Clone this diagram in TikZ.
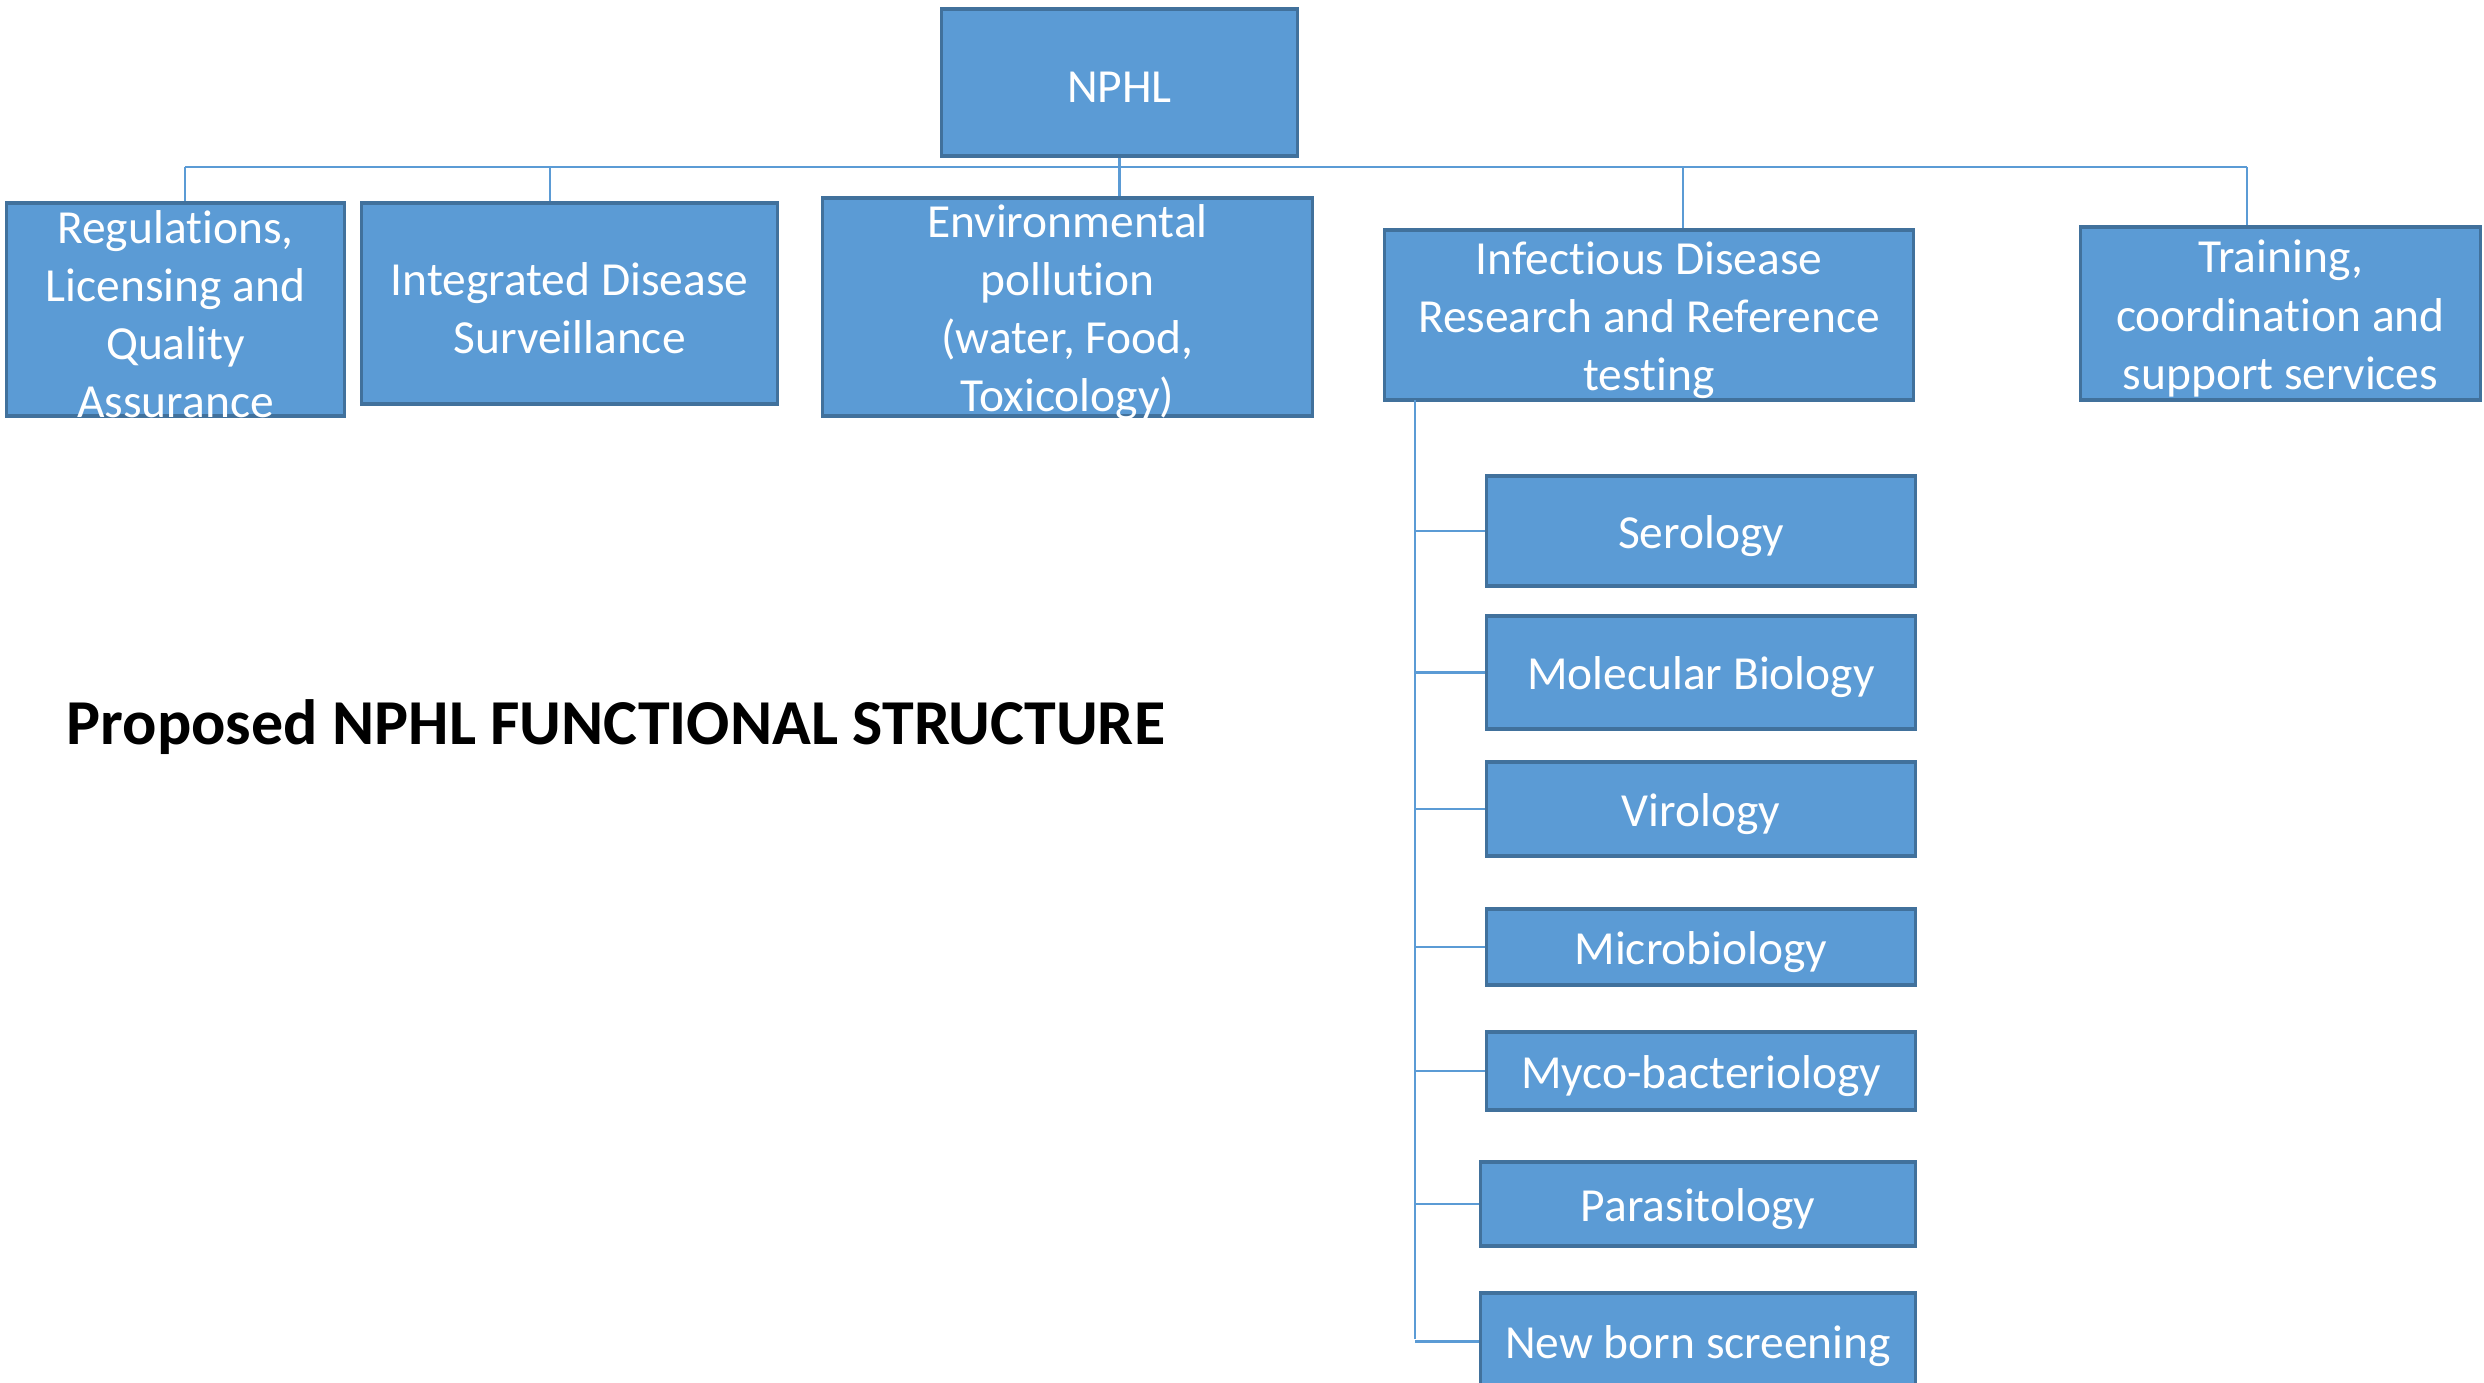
\documentclass[tikz,border=0pt]{standalone}
\usepackage{fontspec}
\setmainfont{Carlito}[Ligatures=NoCommon]
\definecolor{boxblue}{HTML}{5B9BD5}
\definecolor{boxedge}{HTML}{41719C}
\begin{document}
\begin{tikzpicture}[x=0.01cm, y=-0.01cm,
        unittext/.style={text=white, inner sep=0pt, align=center, yshift=-0.05cm,
            font=\fontsize{13.5}{16.5}\selectfont},
        unit/.style={draw=boxedge, line width=0.9pt, fill=boxblue, inner sep=0pt,
            label={[unittext]center:#1}},
        conn/.style={draw=boxblue, line width=0.6pt}]
        \useasboundingbox (0, 0) rectangle (2484, 1383);
        % top level
        \node[unit={NPHL}, minimum width=3.55cm, minimum height=1.47cm] (nphl_box) at (1119.5, 82.5) {};
        \node[unit={Regulations,\\Licensing and\\Quality\\Assurance}, minimum width=3.37cm, minimum height=2.13cm] (reg_box) at (175.5, 309.5) {};
        \node[unit={Integrated Disease\\Surveillance}, minimum width=4.15cm, minimum height=2.01cm] (ids_box) at (569.5, 303.5) {};
        \node[unit={Environmental\\pollution\\(water, Food,\\Toxicology)}, minimum width=4.89cm, minimum height=2.18cm] (env_box) at (1067.5, 307) {};
        \node[unit={Infectious Disease\\Research and Reference\\testing}, minimum width=5.28cm, minimum height=1.70cm] (inf_box) at (1649, 315) {};
        \node[unit={Training,\\coordination and\\support services}, minimum width=3.99cm, minimum height=1.73cm] (trn_box) at (2280.5, 313.5) {};
        % sections under infectious disease
        \node[unit={Serology}, minimum width=4.28cm, minimum height=1.10cm] (ser_box) at (1701, 531) {};
        \node[unit={Molecular Biology}, minimum width=4.28cm, minimum height=1.13cm] (mol_box) at (1701, 672.5) {};
        \node[unit={Virology}, minimum width=4.28cm, minimum height=0.94cm] (vir_box) at (1701, 809) {};
        \node[unit={Microbiology}, minimum width=4.28cm, minimum height=0.76cm] (mic_box) at (1701, 947) {};
        \node[unit={Myco-bacteriology}, minimum width=4.28cm, minimum height=0.78cm] (myc_box) at (1701, 1071) {};
        \node[unit={Parasitology}, minimum width=4.34cm, minimum height=0.84cm] (par_box) at (1698, 1204) {};
        \node[unit={New born screening}, minimum width=4.34cm, minimum height=0.97cm] (nbs_box) at (1698, 1341.5) {};
        \node[font=\fontsize{18.2}{22}\selectfont\bfseries, anchor=west, inner sep=0pt] (title_lbl) at (66, 727) {Proposed NPHL FUNCTIONAL STRUCTURE};
        % connectors
        \coordinate (bus_l_pnt) at (185, 167);
        \coordinate (bus_r_pnt) at (2247, 167);
        \coordinate (ids_pnt) at (550, 167);
        \coordinate (inf_pnt) at (1683, 167);
        \coordinate (rail_pnt) at (1415, 400);
        \coordinate (rail_end_pnt) at (1415, 1339);
        \draw[conn] (bus_l_pnt) -- (bus_r_pnt);
        \draw[conn] (nphl_box.south) -- (nphl_box.south |- env_box.north);
        \draw[conn] (bus_l_pnt) -- (bus_l_pnt |- reg_box.north);
        \draw[conn] (ids_pnt) -- (ids_pnt |- ids_box.north);
        \draw[conn] (inf_pnt) -- (inf_pnt |- inf_box.north);
        \draw[conn] (bus_r_pnt) -- (bus_r_pnt |- trn_box.north);
        \draw[conn] (rail_pnt) -- (rail_end_pnt);
        \foreach \sub in {ser, mol, vir, mic, myc, par, nbs}
            \draw[conn] (rail_pnt |- \sub_box.west) -- (\sub_box.west);
    \end{tikzpicture}
\end{document}
